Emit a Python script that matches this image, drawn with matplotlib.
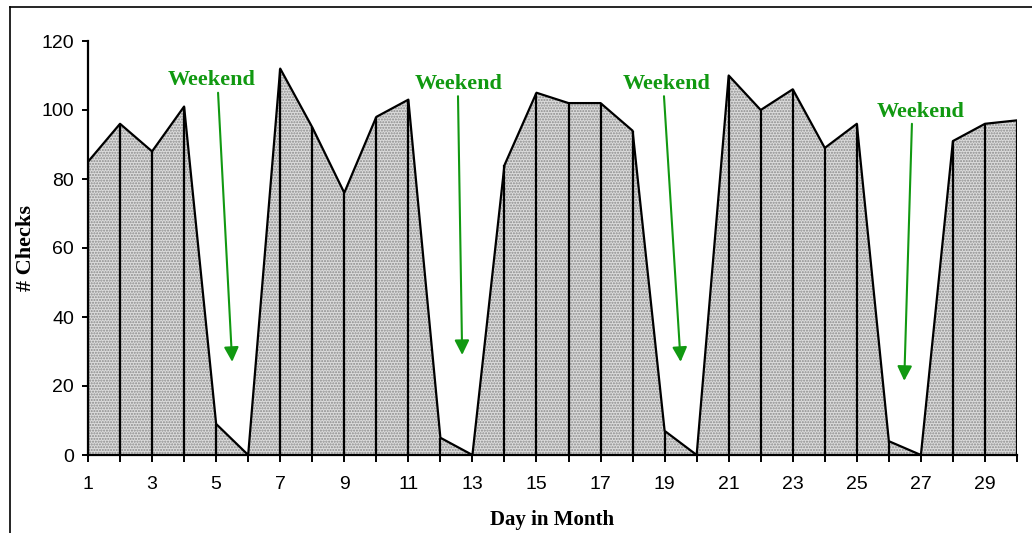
import numpy as np
import matplotlib
matplotlib.use("Agg")
import matplotlib.pyplot as plt
from matplotlib.lines import Line2D

# checks per day of month
days = list(range(1, 31))
checks = [85, 96, 88, 101, 9, 0, 112, 95, 76, 98, 103, 5, 0, 84, 105,
          102, 102, 94, 7, 0, 110, 100, 106, 89, 96, 4, 0, 91, 96, 97]
y_ticks = [0, 20, 40, 60, 80, 100, 120]
x_labels = [1, 3, 5, 7, 9, 11, 13, 15, 17, 19, 21, 23, 25, 27, 29]
note = "Weekend"

green = "#119911"

fig = plt.figure(figsize=(10.32, 5.33), dpi=100)
ax = fig.add_axes([88 / 1032, 1 - 455 / 533, (1017 - 88) / 1032, (455 - 41) / 533])

ax.fill_between(days, checks, 0, facecolor="#dcdcdc", edgecolor="#8a8a8a",
                hatch="......", linewidth=0, zorder=1)
ax.plot(days, checks, color="black", lw=1.6, zorder=3)
ax.vlines(days, 0, checks, color="black", lw=1.6, zorder=3)

ax.set_xlim(1, 30)
ax.set_ylim(0, 120)
ax.set_yticks(y_ticks)
ax.set_xticks(days)
ax.set_xticklabels([str(d) if d in x_labels else "" for d in days])

for s in ["top", "right"]:
    ax.spines[s].set_visible(False)
for s in ["left", "bottom"]:
    ax.spines[s].set_linewidth(1.6)
    ax.spines[s].set_zorder(4)

for lab in ax.get_xticklabels() + ax.get_yticklabels():
    lab.set_fontfamily("Liberation Sans")
    lab.set_fontsize(14)
ax.tick_params(axis="y", direction="out", length=4, width=1.4, pad=6)
ax.tick_params(axis="x", direction="out", length=5, width=1.4, pad=10)

ax.set_ylabel("# Checks", family="Liberation Serif", weight="bold", fontsize=16, labelpad=4)
ax.set_xlabel("Day in Month", family="Liberation Serif", weight="bold", fontsize=15, labelpad=12)

# weekend call-outs
callouts = [((4.87, 108.7), (5.06, 105.0), (5.50, 27)),
            ((12.58, 107.5), (12.55, 104.0), (12.68, 29)),
            ((19.07, 107.5), (18.98, 104.0), (19.50, 27)),
            ((27.00, 99.4), (26.72, 96.0), (26.48, 21.5))]
for txt, start, tip in callouts:
    ax.text(txt[0], txt[1], note, color=green, family="Liberation Serif",
            weight="bold", fontsize=16, ha="center", va="center", zorder=6,
            bbox=dict(facecolor="white", edgecolor="none", pad=1))
    ax.annotate("", xy=tip, xytext=start, zorder=6,
                arrowprops=dict(arrowstyle="-|>", color=green, lw=1.5,
                                mutation_scale=22, shrinkA=0, shrinkB=0))

# scan border
fig.add_artist(Line2D([10 / 1032, 1], [1 - 7 / 533, 1 - 7 / 533], color="black", lw=1.2))
fig.add_artist(Line2D([10 / 1032, 10 / 1032], [0, 1 - 7 / 533], color="black", lw=1.2))

fig.savefig("out.png", dpi=100)
